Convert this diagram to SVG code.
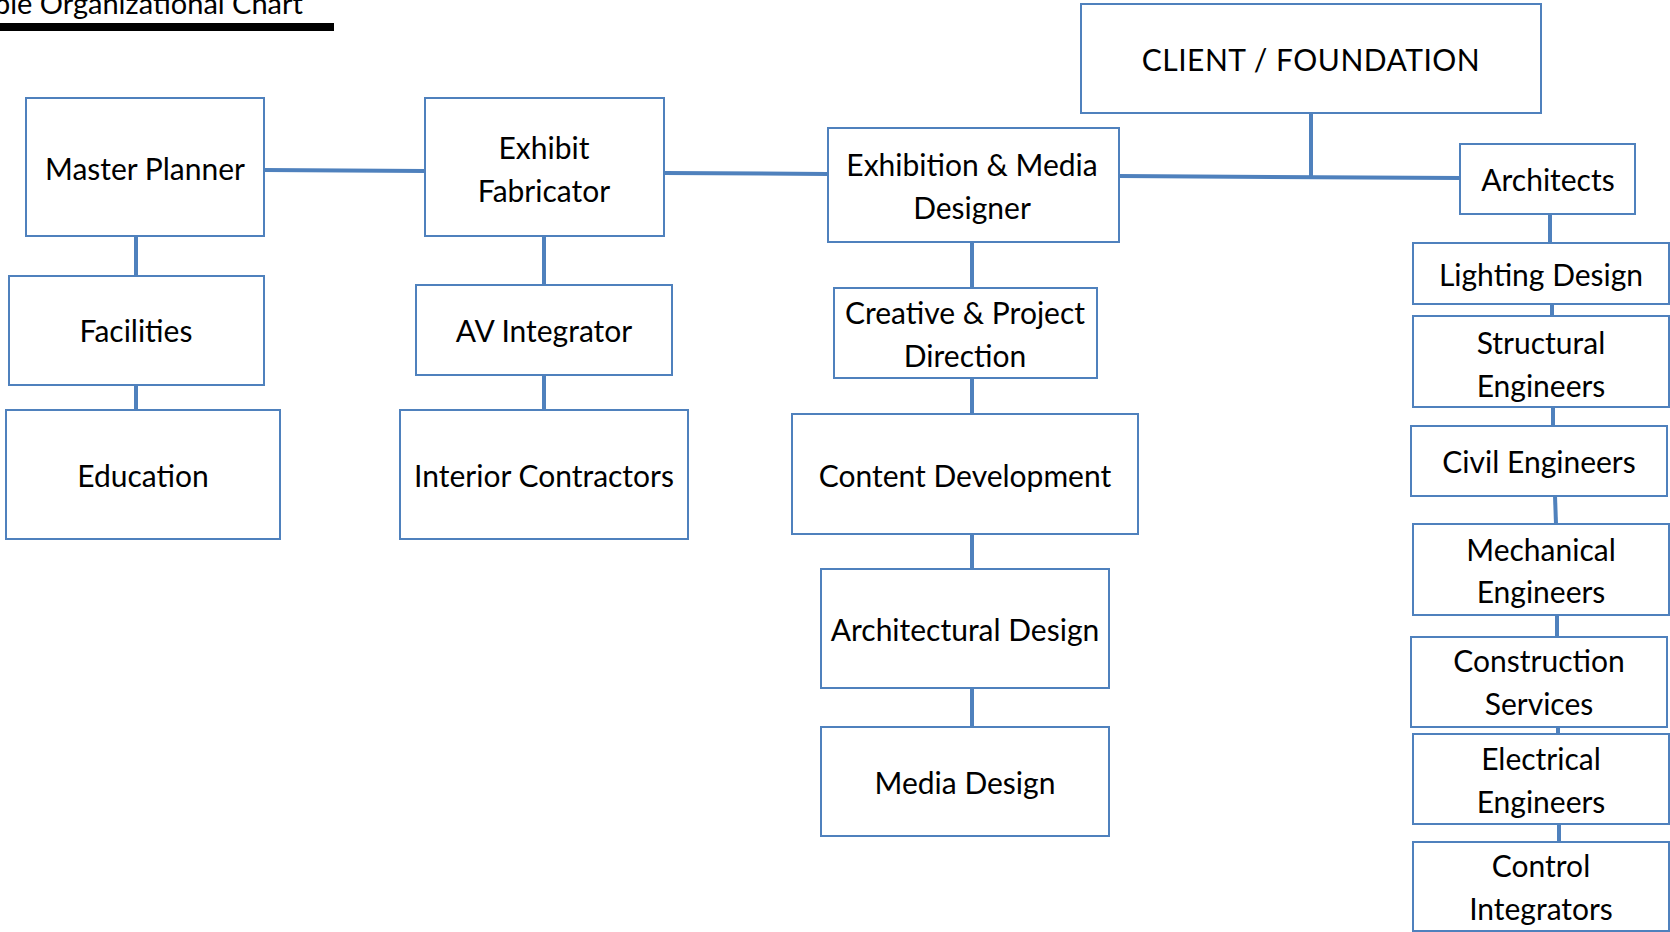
<svg xmlns="http://www.w3.org/2000/svg" width="1670" height="932" viewBox="0 0 1670 932">
<style>
.box{fill:#fff;stroke:#4F81BD;stroke-width:2}
.t{font-family:Lato,"Noto Sans",sans-serif;font-size:30px;fill:#000;text-anchor:middle}
.c{stroke:#4F81BD;stroke-width:4;fill:none}
</style>
<rect width="1670" height="932" fill="#fff"/>
<g id="title">
<text x="303" y="14" font-family="Lato,'Noto Sans',sans-serif" font-size="29" text-anchor="end">ple Organizational Chart</text>
<rect x="0" y="23" width="334" height="8" fill="#000"/>
</g>
<g id="connectors">
<line class="c" x1="1311" y1="107" x2="1311" y2="177"/>
<line class="c" x1="1119" y1="176" x2="1460" y2="178"/>
<line class="c" x1="1550" y1="214" x2="1550" y2="243"/>
<line class="c" x1="1552" y1="304" x2="1552" y2="316"/>
<line class="c" x1="1553" y1="407" x2="1553" y2="426"/>
<line class="c" x1="1555" y1="496" x2="1556" y2="524"/>
<line class="c" x1="1557" y1="615" x2="1557" y2="637"/>
<line class="c" x1="1558" y1="727" x2="1558" y2="734"/>
<line class="c" x1="1559" y1="824" x2="1559" y2="842"/>
<line class="c" x1="264" y1="170" x2="425" y2="171"/>
<line class="c" x1="664" y1="173" x2="828" y2="174"/>
<line class="c" x1="136" y1="236" x2="136" y2="276"/>
<line class="c" x1="136" y1="385" x2="136" y2="410"/>
<line class="c" x1="544" y1="236" x2="544" y2="285"/>
<line class="c" x1="544" y1="375" x2="544" y2="410"/>
<line class="c" x1="972" y1="242" x2="972" y2="288"/>
<line class="c" x1="972" y1="378" x2="972" y2="414"/>
<line class="c" x1="972" y1="534" x2="972" y2="569"/>
<line class="c" x1="972" y1="688" x2="972" y2="727"/>
</g>
<g id="client"><rect class="box" x="1081" y="4" width="460" height="109"/><text class="t" x="1311" y="71" font-size="27" letter-spacing="0.5">CLIENT / FOUNDATION</text></g>
<g id="architects"><rect class="box" x="1460" y="144" width="175" height="70"/><text class="t" x="1548" y="191">Architects</text></g>
<g id="lighting"><rect class="box" x="1413" y="243" width="256" height="61"/><text class="t" x="1541" y="286">Lighting Design</text></g>
<g id="structural"><rect class="box" x="1413" y="316" width="256" height="91"/><text class="t" x="1541" y="354">Structural</text><text class="t" x="1541" y="397">Engineers</text></g>
<g id="civil"><rect class="box" x="1411" y="426" width="256" height="70"/><text class="t" x="1539" y="473">Civil Engineers</text></g>
<g id="mechanical"><rect class="box" x="1413" y="524" width="256" height="91"/><text class="t" x="1541" y="561">Mechanical</text><text class="t" x="1541" y="603">Engineers</text></g>
<g id="construction"><rect class="box" x="1411" y="637" width="256" height="90"/><text class="t" x="1539" y="672">Construction</text><text class="t" x="1539" y="715">Services</text></g>
<g id="electrical"><rect class="box" x="1413" y="734" width="256" height="90"/><text class="t" x="1541" y="770">Electrical</text><text class="t" x="1541" y="813">Engineers</text></g>
<g id="control"><rect class="box" x="1413" y="842" width="256" height="89"/><text class="t" x="1541" y="877">Control</text><text class="t" x="1541" y="920">Integrators</text></g>
<g id="master"><rect class="box" x="26" y="98" width="238" height="138"/><text class="t" x="145" y="180">Master Planner</text></g>
<g id="fabricator"><rect class="box" x="425" y="98" width="239" height="138"/><text class="t" x="544" y="159">Exhibit</text><text class="t" x="544" y="202">Fabricator</text></g>
<g id="exhibition"><rect class="box" x="828" y="128" width="291" height="114"/><text class="t" x="972" y="176">Exhibition &amp; Media</text><text class="t" x="972" y="219">Designer</text></g>
<g id="facilities"><rect class="box" x="9" y="276" width="255" height="109"/><text class="t" x="136" y="342">Facilities</text></g>
<g id="education"><rect class="box" x="6" y="410" width="274" height="129"/><text class="t" x="143" y="487">Education</text></g>
<g id="av"><rect class="box" x="416" y="285" width="256" height="90"/><text class="t" x="544" y="342">AV Integrator</text></g>
<g id="interior"><rect class="box" x="400" y="410" width="288" height="129"/><text class="t" x="544" y="487">Interior Contractors</text></g>
<g id="creative"><rect class="box" x="834" y="288" width="263" height="90"/><text class="t" x="965" y="324">Creative &amp; Project</text><text class="t" x="965" y="367">Direction</text></g>
<g id="content"><rect class="box" x="792" y="414" width="346" height="120"/><text class="t" x="965" y="487">Content Development</text></g>
<g id="architectural"><rect class="box" x="821" y="569" width="288" height="119"/><text class="t" x="965" y="641">Architectural Design</text></g>
<g id="media"><rect class="box" x="821" y="727" width="288" height="109"/><text class="t" x="965" y="794">Media Design</text></g>
</svg>
